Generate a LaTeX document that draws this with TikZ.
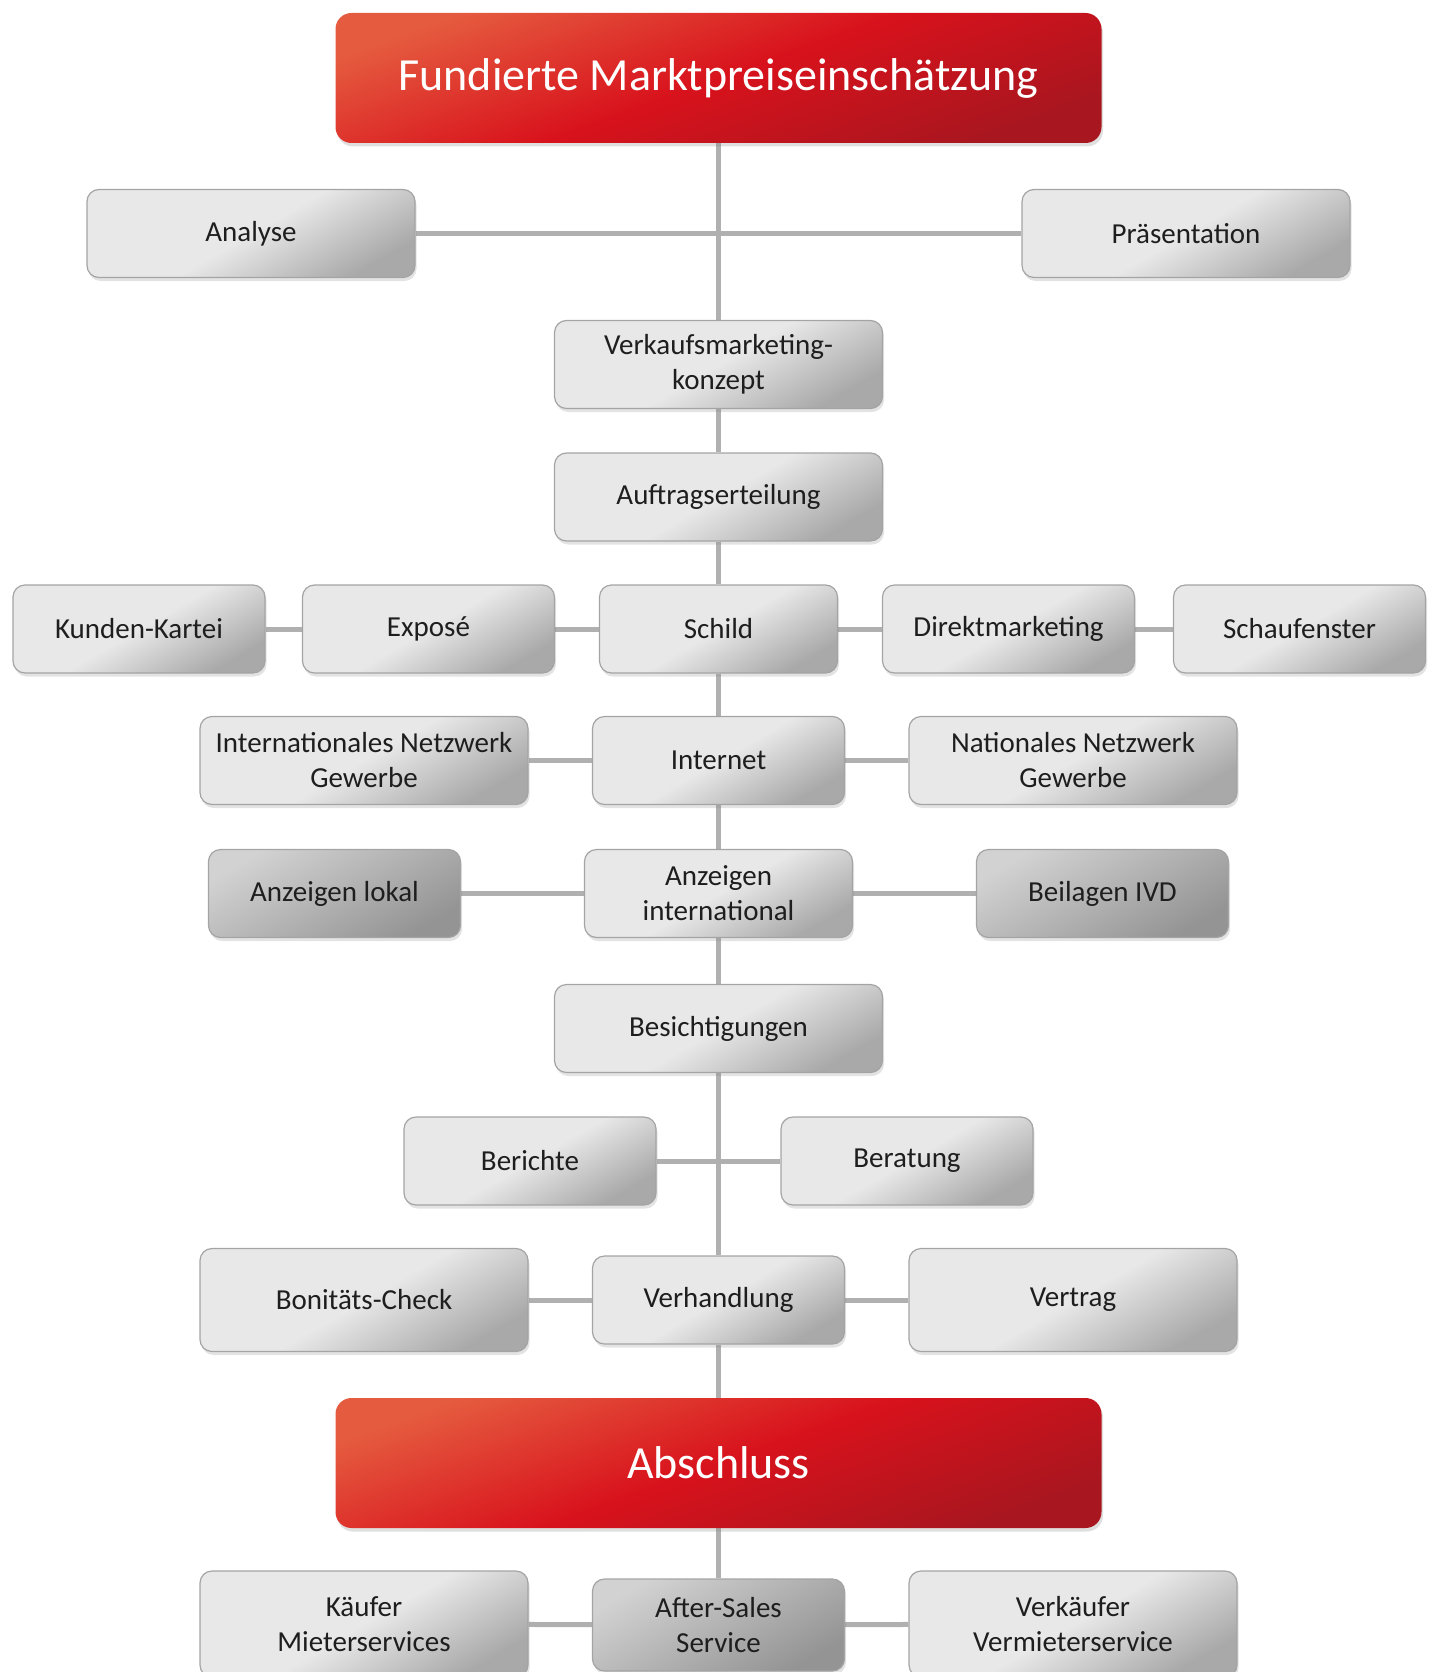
\documentclass[tikz,border=0pt]{standalone}
\usepackage{fontspec}
\setmainfont{Carlito}
\usepackage{xcolor}
\definecolor{boxLight}{HTML}{E8E8E8}
\definecolor{boxDark}{HTML}{A9A9A9}
\definecolor{boxDeepTop}{HTML}{D2D2D2}
\definecolor{boxDeep}{HTML}{949494}
\definecolor{boxEdge}{HTML}{A4A4A4}
\definecolor{lineGray}{HTML}{B0B0B0}
\definecolor{redTop}{HTML}{E55B3F}
\definecolor{redMid}{HTML}{D8121C}
\definecolor{redLow}{HTML}{A8161F}
\definecolor{textDark}{HTML}{1E1E1E}
\usetikzlibrary{backgrounds,shadows}
\tikzset{
    gbox/.style={draw=boxEdge, line width=1.2pt, rounded corners=12pt,
      top color=boxLight, bottom color=boxDark, middle color=boxLight, shading angle=30,
      drop shadow={opacity=0.22, shadow xshift=1.5pt, shadow yshift=-3.5pt},
      text=textDark, font=\fontsize{29}{35}\selectfont, align=center,
      minimum height=88pt, inner sep=2pt},
    gdark/.style={gbox, top color=boxDeepTop, bottom color=boxDeep, shading angle=30},
    rbox/.style={draw=none, rounded corners=16pt,
      top color=redTop, bottom color=redLow, middle color=redMid, shading angle=20,
      drop shadow={opacity=0.25, shadow xshift=1.5pt, shadow yshift=-3.5pt},
      text=white, font=\fontsize{46}{52}\selectfont,
      minimum width=766pt, minimum height=130pt},
    wbox/.style={minimum width=328pt},
    nbox/.style={minimum width=252pt},
    link/.style={draw=lineGray, line width=5pt}
}

\begin{document}
\begin{tikzpicture}[x=1pt, y=-1pt]
  \useasboundingbox (0,0) rectangle (1436,1672);

  % top
  \node[rbox] (head) at (718.5,78) {Fundierte Marktpreiseinschätzung};
  \node[gbox,wbox] (analyse) at (251,233.5) {Analyse};
  \node[gbox,wbox] (praes) at (1186,233.5) {Präsentation};
  \node[gbox,wbox] (vmk) at (718.5,364.5) {Verkaufsmarketing-\\konzept};
  \node[gbox,wbox] (auftrag) at (718.5,497) {Auftragserteilung};

  % marketing row
  \node[gbox,nbox] (kunden) at (139,629) {Kunden-Kartei};
  \node[gbox,nbox] (expose) at (428.5,629) {Exposé};
  \node[gbox,minimum width=238pt] (schild) at (718.5,629) {Schild};
  \node[gbox,nbox] (direkt) at (1008.5,629) {Direktmarketing};
  \node[gbox,nbox] (schaufenster) at (1299.5,629) {Schaufenster};

  % networks
  \node[gbox,wbox] (intnet) at (364,760.5) {Internationales Netzwerk\\Gewerbe};
  \node[gbox,nbox] (internet) at (718.5,760.5) {Internet};
  \node[gbox,wbox] (natnet) at (1073,760.5) {Nationales Netzwerk\\Gewerbe};

  % ads
  \node[gdark,nbox] (lokal) at (334.5,893.5) {Anzeigen lokal};
  \node[gbox,minimum width=268pt] (anzint) at (718.5,893.5) {Anzeigen\\international};
  \node[gdark,nbox] (beilagen) at (1102.5,893.5) {Beilagen IVD};

  \node[gbox,wbox] (besicht) at (718.5,1028.5) {Besichtigungen};
  \node[gbox,nbox] (berichte) at (530,1161) {Berichte};
  \node[gbox,nbox] (beratung) at (907,1161) {Beratung};

  % negotiation
  \node[gbox,wbox,minimum height=103pt] (bonitaet) at (364,1300) {Bonitäts-Check};
  \node[gbox,nbox] (verhandlung) at (718.5,1300) {Verhandlung};
  \node[gbox,wbox,minimum height=103pt] (vertrag) at (1073,1300) {Vertrag};

  % closing
  \node[rbox] (abschluss) at (718.5,1463) {Abschluss};
  \node[gbox,wbox,minimum height=106pt] (kaeufer) at (364,1624) {Käufer\\Mieterservices};
  \node[gdark,nbox,minimum height=92pt] (aftersales) at (718.5,1625) {After-Sales\\Service};
  \node[gbox,wbox,minimum height=106pt] (verkaeufer) at (1073,1624) {Verkäufer\\Vermieterservice};

  % connectors
  \begin{scope}[on background layer]
    \draw[link] (head) -- (vmk);
    \draw[link] (analyse) -- (praes);
    \draw[link] (vmk) -- (auftrag);
    \draw[link] (auftrag) -- (schild);
    \draw[link] (kunden) -- (expose);
    \draw[link] (expose) -- (schild);
    \draw[link] (schild) -- (direkt);
    \draw[link] (direkt) -- (schaufenster);
    \draw[link] (schild) -- (internet);
    \draw[link] (intnet) -- (internet);
    \draw[link] (internet) -- (natnet);
    \draw[link] (internet) -- (anzint);
    \draw[link] (lokal) -- (anzint);
    \draw[link] (anzint) -- (beilagen);
    \draw[link] (anzint) -- (besicht);
    \draw[link] (besicht) -- (verhandlung);
    \draw[link] (berichte) -- (beratung);
    \draw[link] (bonitaet) -- (verhandlung);
    \draw[link] (verhandlung) -- (vertrag);
    \draw[link] (verhandlung) -- (abschluss);
    \draw[link] (abschluss) -- (aftersales);
    \draw[link] (kaeufer) -- (aftersales);
    \draw[link] (aftersales) -- (verkaeufer);
  \end{scope}
\end{tikzpicture}
\end{document}
